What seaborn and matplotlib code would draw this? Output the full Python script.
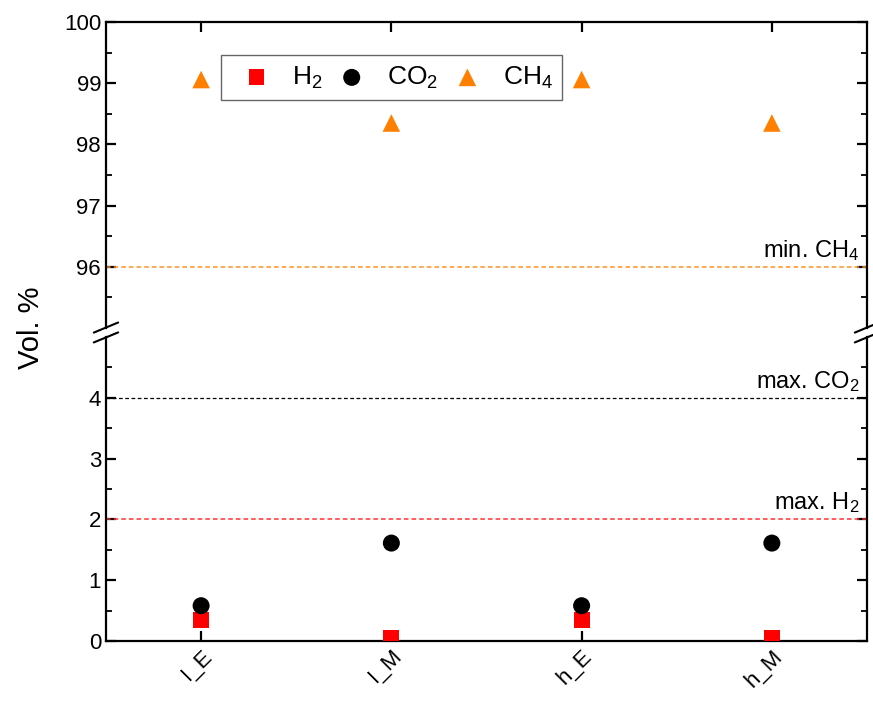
import matplotlib
matplotlib.use("Agg")
import matplotlib.pyplot as plt
import seaborn as sns
import pandas as pd

# data
samples = ["I_E", "I_M", "h_E", "h_M"]
h2 = [0.35, 0.05, 0.35, 0.05]
co2 = [0.58, 1.61, 0.58, 1.61]
ch4 = [99.06, 98.35, 99.06, 98.35]

limit_ch4 = 96
limit_co2 = 4
limit_h2 = 2

df = pd.DataFrame({"sample": samples, "H2": h2, "CO2": co2, "CH4": ch4})

sns.set_style("ticks")
plt.rcParams["font.family"] = ["Liberation Sans", "DejaVu Sans"]
plt.rcParams["mathtext.fontset"] = "custom"
plt.rcParams["mathtext.rm"] = "Liberation Sans"
plt.rcParams["mathtext.it"] = "Liberation Sans"
plt.rcParams["text.color"] = "black"
plt.rcParams["axes.edgecolor"] = "black"
plt.rcParams["xtick.color"] = "black"
plt.rcParams["ytick.color"] = "black"
plt.rcParams["axes.labelcolor"] = "black"

fig = plt.figure(figsize=(8.73, 7.06), dpi=100)
ax_top = fig.add_axes([0.1214, 0.5354, 0.8717, 0.4334])
ax_bot = fig.add_axes([0.1214, 0.0921, 0.8717, 0.4306])

series = [("H2", "H$_2$", "s", "#FF0000", 130),
          ("CO2", "CO$_2$", "o", "#000000", 150),
          ("CH4", "CH$_4$", "^", "#FF8000", 160)]

for ax in (ax_top, ax_bot):
    for col, lab, mk, c, s in series:
        sns.scatterplot(data=df, x="sample", y=col, marker=mk, color=c, s=s,
                        edgecolor="none", label=lab, ax=ax, zorder=3)
    ax.set_xlim(-0.5, 3.5)
    for sp in ax.spines.values():
        sp.set_linewidth(1.6)
    ax.tick_params(direction="in", width=1.6, length=7, labelsize=16,
                   right=True, top=True, which="major")
    ax.tick_params(direction="in", width=1.3, length=4, which="minor",
                   right=True, top=False, bottom=False)
    ax.set_xlabel("")
    ax.set_ylabel("")

ax_top.set_ylim(95, 100)
ax_bot.set_ylim(0, 5)
ax_top.set_yticks([96, 97, 98, 99, 100])
ax_top.set_yticks([95.5, 96.5, 97.5, 98.5, 99.5], minor=True)
ax_bot.set_yticks([0, 1, 2, 3, 4])
ax_bot.set_yticks([0.5, 1.5, 2.5, 3.5, 4.5], minor=True)

ax_top.spines["bottom"].set_visible(False)
ax_top.tick_params(axis="x", bottom=False, labelbottom=False, top=True)
ax_bot.spines["top"].set_visible(False)
ax_bot.tick_params(axis="x", top=False, bottom=True)
ax_bot.set_xticks(range(len(samples)))
ax_bot.set_xticklabels(samples, rotation=45, ha="right", rotation_mode="anchor")

# limit lines
ax_top.axhline(limit_ch4, color="#FF9020", ls="--", lw=1.1, dashes=(3, 2))
ax_top.text(3.46, limit_ch4 + 0.07, "min. CH$_4$", ha="right", va="bottom", fontsize=17)
ax_bot.axhline(limit_co2, color="#000000", ls="--", lw=0.9, dashes=(3, 2))
ax_bot.text(3.46, limit_co2 + 0.07, "max. CO$_2$", ha="right", va="bottom", fontsize=17)
ax_bot.axhline(limit_h2, color="#FF3030", ls="--", lw=1.1, dashes=(3, 2))
ax_bot.text(3.46, limit_h2 + 0.07, "max. H$_2$", ha="right", va="bottom", fontsize=17)

# legend
handles, labels = ax_top.get_legend_handles_labels()
ax_bot.get_legend().remove()
leg = ax_top.legend(handles[:3], labels[:3], ncol=3, loc="upper left",
                    bbox_to_anchor=(0.151, 0.892), borderaxespad=0, fontsize=19,
                    frameon=True, fancybox=False, edgecolor="#404040",
                    handletextpad=0.35, columnspacing=0.1, borderpad=0.35,
                    handlelength=2.0)
leg.get_frame().set_linewidth(1.0)

# axis break marks (short parallel slashes on both spines)
for x0 in (0, 1):
    ax_top.plot([x0 - 0.016, x0 + 0.016], [-0.015, 0.018], transform=ax_top.transAxes,
                color="k", lw=1.5, clip_on=False)
    ax_bot.plot([x0 - 0.016, x0 + 0.016], [0.982, 1.015], transform=ax_bot.transAxes,
                color="k", lw=1.5, clip_on=False)

fig.text(0.035, 0.5354, "Vol. %", rotation=90, ha="center", va="center", fontsize=21)

fig.savefig("out.png", dpi=100)
